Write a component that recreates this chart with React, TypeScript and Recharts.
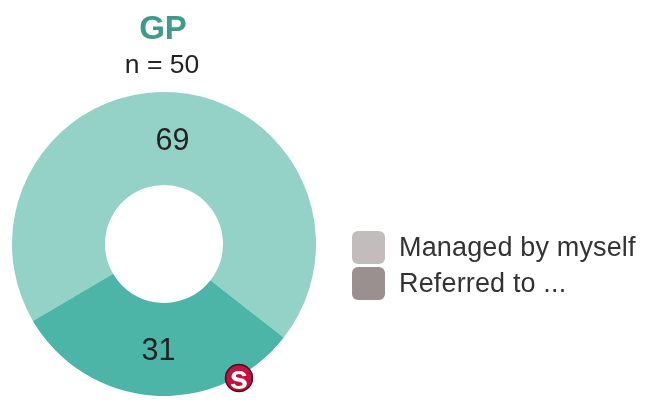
import React from "react";
import { PieChart, Pie, Cell, Legend } from "recharts";

const categories = ["Managed by myself", "Referred to ..."];
const values = [69, 31];
const sliceColors = ["#94d2c8", "#4cb5a8"];
const legendColors = ["#c2bcbc", "#9a9090"];
const title = "GP";
const subtitle = "n = 50";
const badge = "s";

const data = categories.map((name, i) => ({ name, value: values[i] }));
const font = '"Liberation Sans", Arial, sans-serif';

const renderLabel = (p: any) => {
  const r = (p.innerRadius + p.outerRadius) / 2;
  const a = (-p.midAngle * Math.PI) / 180;
  return (
    <text
      x={p.cx + r * Math.cos(a) + 1.5}
      y={p.cy + r * Math.sin(a)}
      textAnchor="middle"
      dominantBaseline="central"
      fontSize={30.5}
      fontFamily={font}
      fill="#222222"
    >
      {p.value}
    </text>
  );
};

const LegendBox = () => (
  <div style={{ fontFamily: font, fontSize: 27, letterSpacing: 0.15, color: "#333333" }}>
    {categories.map((c, i) => (
      <div key={c} style={{ display: "flex", alignItems: "center", height: 36 }}>
        <div
          style={{
            width: 33,
            height: 33,
            borderRadius: 6,
            background: legendColors[i],
            marginRight: 14,
          }}
        />
        <span style={{ whiteSpace: "nowrap" }}>{c}</span>
      </div>
    ))}
  </div>
);

export default function App() {
  return (
    <div
      style={{
        position: "absolute",
        left: 0,
        top: 0,
        width: 653,
        height: 404,
        background: "#ffffff",
        filter: "blur(0.6px)",
      }}
    >
      <PieChart width={653} height={404} margin={{ top: 0, right: 0, bottom: 0, left: 0 }}>
        <text x={163} y={39} textAnchor="middle" fontFamily={font} fontWeight={700} fontSize={33} fill="#3f9a8b">
          {title}
        </text>
        <text x={162} y={73} textAnchor="middle" fontFamily={font} fontSize={26.5} fill="#222222">
          {subtitle}
        </text>
        <Pie
          data={data}
          dataKey="value"
          cx={164}
          cy={244}
          innerRadius={59}
          outerRadius={152}
          startAngle={-38}
          endAngle={322}
          stroke="none"
          label={renderLabel}
          labelLine={false}
          isAnimationActive={false}
        >
          {data.map((d, i) => (
            <Cell key={d.name} fill={sliceColors[i]} />
          ))}
        </Pie>
        <Legend
          content={<LegendBox />}
          wrapperStyle={{ position: "absolute", left: 352, top: 229, width: 300, height: 76 }}
        />
      </PieChart>
      <svg
        width={50}
        height={50}
        viewBox="214 353 50 50"
        style={{ position: "absolute", left: 214, top: 353 }}
      >
        <circle cx={239} cy={378} r={13.5} fill="#c4103c" stroke="#4a0a20" strokeWidth={1.5} />
        <text
          x={239}
          y={377}
          textAnchor="middle"
          dominantBaseline="central"
          fontFamily={font}
          fontWeight={700}
          fontSize={33}
          fill="#ffffff"
        >
          {badge}
        </text>
      </svg>
    </div>
  );
}
